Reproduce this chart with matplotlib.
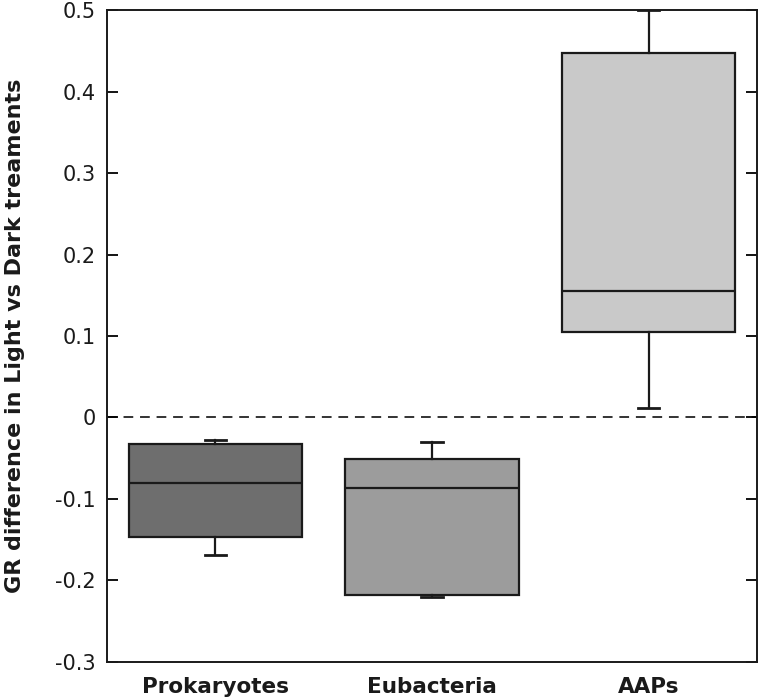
import matplotlib
matplotlib.use("Agg")
import matplotlib.pyplot as plt

# values
groups = ["Prokaryotes", "Eubacteria", "AAPs"]
whislo = [-0.169, -0.220, 0.012]
q1 = [-0.147, -0.218, 0.105]
med = [-0.080, -0.087, 0.155]
q3 = [-0.033, -0.051, 0.447]
whishi = [-0.028, -0.030, 0.500]
colors = ["#6e6e6e", "#9c9c9c", "#c9c9c9"]

yticks = [-0.3, -0.2, -0.1, 0, 0.1, 0.2, 0.3, 0.4, 0.5]
ytick_labels = ["-0.3", "-0.2", "-0.1", "0", "0.1", "0.2", "0.3", "0.4", "0.5"]

stats = []
for i, g in enumerate(groups):
    stats.append(dict(label=g, whislo=whislo[i], q1=q1[i], med=med[i],
                      q3=q3[i], whishi=whishi[i], fliers=[]))

fig = plt.figure(figsize=(7.6, 7.0), dpi=100)
ax = fig.add_axes([0.1408, 0.0543, 0.8552, 0.9314])

lw = 1.6
bp = ax.bxp(stats, positions=[1, 2, 3], widths=0.8, capwidths=0.1,
            patch_artist=True, showfliers=False,
            boxprops=dict(linewidth=lw, edgecolor="#1a1a1a"),
            medianprops=dict(color="#1a1a1a", linewidth=lw),
            whiskerprops=dict(color="#1a1a1a", linewidth=lw),
            capprops=dict(color="#1a1a1a", linewidth=2.0))
for patch, c in zip(bp["boxes"], colors):
    patch.set_facecolor(c)

ax.axhline(0, color="#333333", linestyle=(0, (5, 3.5)), linewidth=1.4, zorder=0)

ax.set_xlim(0.5, 3.5)
ax.set_ylim(-0.3, 0.5)
ax.set_yticks(yticks)
ax.set_yticklabels(ytick_labels, fontsize=15, color="#1a1a1a")
ax.tick_params(axis="y", direction="in", length=8, width=1.3, right=True, pad=8)
ax.tick_params(axis="x", length=0, pad=11)
for lab in ax.get_xticklabels():
    lab.set_fontsize(15.5)
    lab.set_fontweight("bold")
    lab.set_color("#1a1a1a")

for s in ax.spines.values():
    s.set_linewidth(1.4)
    s.set_color("#1a1a1a")

ax.set_ylabel("GR difference in Light vs Dark treaments", fontsize=16,
              fontweight="bold", color="#1a1a1a", labelpad=22)

fig.savefig("out.png", dpi=100)
